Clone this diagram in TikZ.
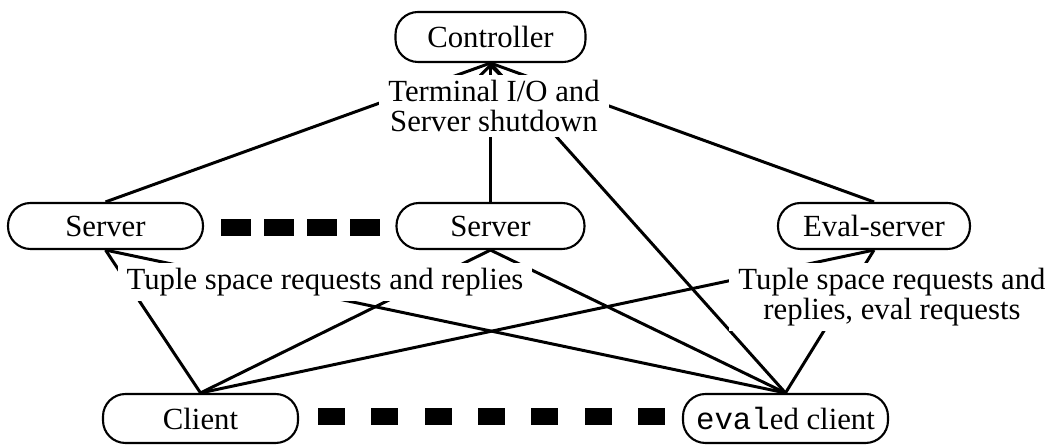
\documentclass[tikz,border=0pt]{standalone}
\usepackage{fontspec}
\setmainfont{Liberation Serif}
\setmonofont{Liberation Mono}
\usetikzlibrary{arrows.meta}

\begin{document}
\begin{tikzpicture}[>={Straight Barb[length=6pt,width=12pt]},
    font=\fontsize{17.5}{17.5}\selectfont,
    proc/.style={draw, fill=white, line width=1.2pt, rounded corners=0.45cm, minimum height=0.92cm, inner sep=0pt},
    msg/.style={fill=white, align=center, inner xsep=0.18cm, inner ysep=0.1cm},
    link/.style={line width=1.7pt}]
\useasboundingbox (0,0) rectangle (21.06,8.9);
\node[proc, minimum width=3.8cm, minimum height=1cm] (ctrl) at (9.81,8.16) {Controller};
\node[proc, minimum width=3.9cm] (srv1) at (2.11,4.38) {Server};
\node[proc, minimum width=3.76cm] (srv2) at (9.81,4.38) {Server};
\node[proc, minimum width=3.84cm] (esrv) at (17.48,4.38) {Eval-server};
\node[proc, minimum width=3.9cm, minimum height=0.98cm] (client) at (4.01,0.53) {Client};
\node[proc, minimum width=4.1cm, minimum height=0.98cm] (eclient) at (15.71,0.53) {\texttt{eval}ed client};

\draw[link] (srv1.north) -- (ctrl.south);
\draw[link,->] (srv2.north) -- (ctrl.south);
\draw[link] (esrv.north) -- (ctrl.south);
\draw[link] (eclient.north) -- (ctrl.south);
\foreach \s in {srv1,srv2,esrv} {
  \draw[link] (client.north) -- (\s.south);
  \draw[link] (eclient.north) -- (\s.south);
}

\node[msg] (tio) at (9.88,6.78) {Terminal I/O and\\Server shutdown};
\node[msg] (tsr) at (6.50,3.26) {Tuple space requests and replies};
\node[msg] (tse) at (17.84,2.96) {Tuple space requests and\\replies, eval requests};

\foreach \i in {0,...,3} \fill ({4.42+0.86*\i},4.17) rectangle ++(0.6,0.34);
\foreach \i in {0,...,6} \fill ({6.36+1.066*\i},0.39) rectangle ++(0.54,0.34);
\end{tikzpicture}
\end{document}
